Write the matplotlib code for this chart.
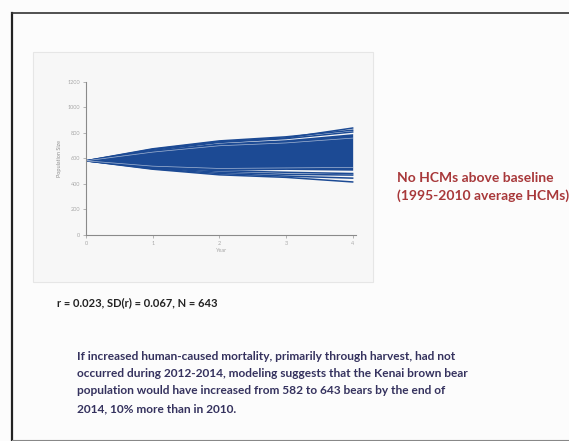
import numpy as np
import matplotlib
matplotlib.use("Agg")
import matplotlib.pyplot as plt
from matplotlib.patches import Rectangle
from matplotlib.lines import Line2D

# projection years and simulated population trajectories (bears)
years = [0, 1, 2, 3, 4]
core_upper = [582, 668, 722, 748, 795]
core_lower = [582, 524, 508, 514, 508]
upper_runs = [
    [582, 672, 732, 762, 839],
    [582, 676, 738, 770, 822],
    [582, 664, 726, 756, 808],
]
lower_runs = [
    [582, 520, 482, 462, 446],
    [582, 516, 472, 452, 416],
    [582, 526, 492, 476, 470],
    [582, 530, 504, 492, 482],
]
streak_runs = [
    [582, 650, 700, 722, 760],
    [582, 540, 522, 526, 530],
]
yticks = [0, 200, 400, 600, 800, 1000, 1200]
xticks = [0, 1, 2, 3, 4]

stats_text = "r = 0.023, SD(r) = 0.067, N = 643"
scenario_lines = ["No HCMs above baseline", "(1995-2010 average HCMs)"]
summary_lines = [
    "If increased human-caused mortality, primarily through harvest, had not",
    "occurred during 2012-2014, modeling suggests that the Kenai brown bear",
    "population would have increased from 582 to 643 bears by the end of",
    "2014, 10% more than in 2010.",
]

plt.rcParams['font.family'] = ['Lato', 'DejaVu Sans']
W, H = 569, 441
fig = plt.figure(figsize=(W / 100, H / 100), dpi=100, facecolor='#fcfcfc')

# slide frame
fig.add_artist(Line2D([12 / W, 12 / W], [1 - 13 / H, 1 - 440 / H], color='#222222', lw=1.6))
fig.add_artist(Line2D([12 / W, 1.0], [1 - 13 / H, 1 - 13 / H], color='#333333', lw=1.2))
fig.add_artist(Line2D([12 / W, 1.0], [1 - 440 / H, 1 - 440 / H], color='#888888', lw=0.8))

# chart panel
fig.add_artist(Rectangle((33 / W, 1 - 282 / H), (373 - 33) / W, (282 - 52) / H,
                         transform=fig.transFigure, facecolor='#f7f7f7',
                         edgecolor='#e6e6e6', lw=0.8, zorder=0))

ax = fig.add_axes([86 / W, 1 - 235 / H, (356 - 86) / W, (235 - 82) / H])
ax.set_facecolor('none')
blue = '#1c4a94'
ax.fill_between(years, core_lower, core_upper, color=blue, lw=0)
for run in upper_runs + lower_runs:
    ax.plot(years, run, color=blue, lw=1.1)
for run in streak_runs:
    ax.plot(years, run, color='white', lw=0.5, alpha=0.6)

ax.set_xlim(0, 4.05)
ax.set_ylim(0, 1200)
ax.set_xticks(xticks)
ax.set_yticks(yticks)
ax.tick_params(labelsize=4, colors='#a8a8a8', length=2, width=0.6, pad=2)
for side in ['top', 'right']:
    ax.spines[side].set_visible(False)
for side in ['left', 'bottom']:
    ax.spines[side].set_color('#8a8a8a')
    ax.spines[side].set_linewidth(0.8)
ax.set_xlabel("Year", fontsize=4, color='#a8a8a8', labelpad=2)
ax.set_ylabel("Population Size", fontsize=4, color='#909090', labelpad=4)

fig.text(397 / W, 1 - 178 / H, scenario_lines[0], color='#a8383a',
         fontsize=10, fontweight='bold', va='center', ha='left')
fig.text(397 / W, 1 - 196 / H, scenario_lines[1], color='#a8383a',
         fontsize=10, fontweight='bold', va='center', ha='left')

fig.text(57 / W, 1 - 303 / H, stats_text, color='#222222',
         fontsize=8.0, fontweight='bold', va='center', ha='left')

for i, line in enumerate(summary_lines):
    fig.text(77 / W, 1 - (356 + 17.5 * i) / H, line, color='#35325e',
             fontsize=8.6, fontweight='bold', va='center', ha='left')

fig.savefig("out.png", dpi=100, facecolor=fig.get_facecolor())
